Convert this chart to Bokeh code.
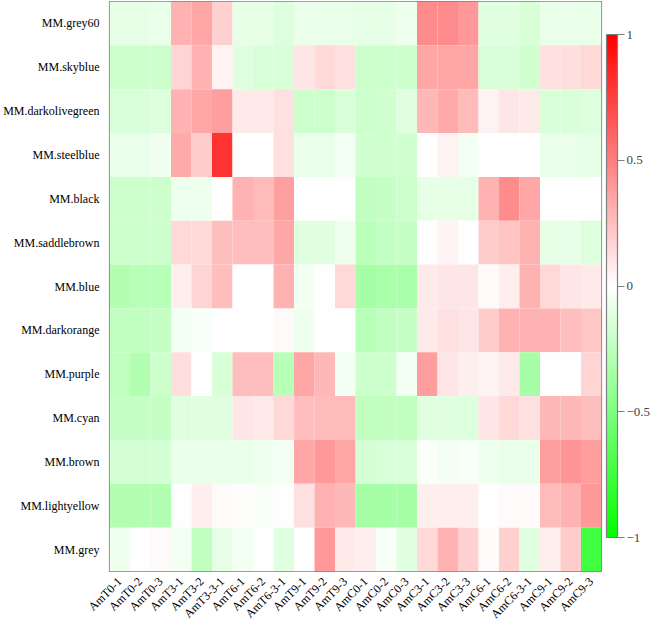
from bokeh.plotting import figure
from bokeh.models import ColumnDataSource, LinearColorMapper, ColorBar, FixedTicker, FactorRange
from bokeh.transform import transform
from bokeh.embed import file_html
from bokeh.resources import INLINE

samples = ["AmT0-1", "AmT0-2", "AmT0-3", "AmT3-1", "AmT3-2", "AmT3-3-1",
           "AmT6-1", "AmT6-2", "AmT6-3-1", "AmT9-1", "AmT9-2", "AmT9-3",
           "AmC0-1", "AmC0-2", "AmC0-3", "AmC3-1", "AmC3-2", "AmC3-3",
           "AmC6-1", "AmC6-2", "AmC6-3-1", "AmC9-1", "AmC9-2", "AmC9-3"]

modules = ["MM.grey60", "MM.skyblue", "MM.darkolivegreen", "MM.steelblue",
           "MM.black", "MM.saddlebrown", "MM.blue", "MM.darkorange",
           "MM.purple", "MM.cyan", "MM.brown", "MM.lightyellow", "MM.grey"]

grey60 = [-0.10, -0.10, -0.08, 0.30, 0.35, 0.18, -0.10, -0.10, -0.13, -0.08, -0.08, -0.08,
          -0.10, -0.10, -0.07, 0.45, 0.45, 0.40, -0.12, -0.12, -0.15, -0.08, -0.08, -0.08]
skyblue = [-0.20, -0.20, -0.20, 0.17, 0.30, 0.05, -0.12, -0.15, -0.15, 0.10, 0.15, 0.12,
           -0.20, -0.20, -0.20, 0.35, 0.35, 0.35, -0.15, -0.15, -0.18, 0.12, 0.13, 0.15]
darkolivegreen = [-0.15, -0.15, -0.13, 0.30, 0.35, 0.38, 0.08, 0.08, 0.12, -0.20, -0.20, -0.15,
                  -0.20, -0.18, -0.12, 0.28, 0.33, 0.27, 0.05, 0.10, 0.08, -0.15, -0.15, -0.13]
steelblue = [-0.08, -0.08, -0.06, 0.33, 0.20, 0.80, 0.00, 0.00, 0.12, -0.08, -0.08, -0.04,
             -0.18, -0.18, -0.18, 0.00, 0.05, -0.05, 0.00, 0.00, 0.00, -0.08, -0.08, -0.10]
black = [-0.20, -0.20, -0.20, -0.07, -0.07, 0.00, 0.30, 0.27, 0.37, 0.00, 0.00, 0.00,
         -0.25, -0.22, -0.20, -0.10, -0.10, -0.10, 0.30, 0.45, 0.35, 0.00, 0.00, 0.00]
saddlebrown = [-0.20, -0.20, -0.20, 0.15, 0.15, 0.25, 0.25, 0.25, 0.35, -0.12, -0.12, -0.07,
               -0.27, -0.24, -0.22, 0.00, 0.04, 0.00, 0.20, 0.23, 0.30, -0.10, -0.10, -0.13]
blue = [-0.30, -0.28, -0.28, 0.07, 0.17, 0.25, 0.00, 0.00, 0.30, -0.04, 0.00, 0.15,
        -0.35, -0.33, -0.33, 0.08, 0.10, 0.10, 0.02, 0.07, 0.30, 0.15, 0.10, 0.08]
darkorange = [-0.25, -0.25, -0.22, -0.05, -0.03, 0.00, 0.00, 0.00, 0.02, -0.07, 0.00, 0.00,
              -0.28, -0.25, -0.22, 0.08, 0.12, 0.10, 0.20, 0.30, 0.30, 0.30, 0.25, 0.22]
purple = [-0.25, -0.30, -0.20, 0.13, 0.00, -0.15, 0.25, 0.25, -0.28, 0.35, 0.28, -0.04,
          -0.20, -0.20, -0.05, 0.38, 0.10, 0.07, 0.05, 0.08, -0.35, 0.00, 0.00, 0.17]
cyan = [-0.22, -0.22, -0.22, -0.12, -0.12, -0.12, 0.10, 0.08, 0.15, 0.25, 0.27, 0.27,
        -0.25, -0.25, -0.25, -0.12, -0.12, -0.14, 0.10, 0.15, 0.12, 0.28, 0.28, 0.25]
brown = [-0.17, -0.17, -0.17, -0.08, -0.08, -0.08, -0.08, -0.07, -0.04, 0.35, 0.40, 0.35,
         -0.17, -0.15, -0.15, -0.02, -0.04, -0.03, -0.07, -0.08, -0.08, 0.38, 0.42, 0.38]
lightyellow = [-0.30, -0.30, -0.30, 0.00, 0.07, 0.02, 0.01, -0.03, 0.00, 0.12, 0.30, 0.28,
               -0.35, -0.35, -0.35, 0.07, 0.07, 0.07, 0.00, 0.02, 0.02, 0.27, 0.30, 0.40]
grey = [-0.07, 0.00, 0.02, -0.05, -0.25, -0.10, -0.05, 0.00, -0.12, 0.00, 0.40, 0.08,
        0.07, -0.03, -0.12, 0.15, 0.30, 0.18, 0.02, 0.18, -0.12, 0.07, 0.20, -0.75]

row_values = [grey60, skyblue, darkolivegreen, steelblue, black, saddlebrown, blue,
              darkorange, purple, cyan, brown, lightyellow, grey]

cbar_ticks = [-1, -0.5, 0, 0.5, 1]

xs, ys, vs = [], [], []
for m, vals in zip(modules, row_values):
    for s, v in zip(samples, vals):
        xs.append(s)
        ys.append(m)
        vs.append(v)
source = ColumnDataSource(dict(x=xs, y=ys, v=vs))

palette = []
for i in range(256):
    t = -1 + 2 * i / 255
    if t < 0:
        c = int(round(255 * (1 + t)))
        palette.append("#%02x%02x%02x" % (c, 255, c))
    else:
        c = int(round(255 * (1 - t)))
        palette.append("#%02x%02x%02x" % (255, c, c))

mapper = LinearColorMapper(palette=palette, low=-1, high=1)

FONT = "Liberation Serif"

p = figure(x_range=FactorRange(*samples), y_range=FactorRange(*list(reversed(modules))),
           frame_width=492, frame_height=570, output_backend="svg",
           toolbar_location=None, tools="")
p.min_border_left = 104
p.min_border_top = 1
p.min_border_bottom = 10
p.min_border_right = 54
p.styles = {"position": "absolute", "top": "0px", "left": "0px"}

p.rect(x="x", y="y", width=1, height=1, source=source,
       fill_color=transform("v", mapper), line_color=None)

p.grid.visible = False
p.outline_line_color = "#808080"
p.outline_line_width = 1.2

for ax in (p.xaxis, p.yaxis):
    ax.axis_line_color = None
    ax.major_tick_line_color = None
    ax.minor_tick_line_color = None
    ax.major_label_text_font = FONT
    ax.major_label_text_font_size = "12px"
    ax.major_label_text_color = "#000000"

p.yaxis.major_label_standoff = 4
p.xaxis.major_label_standoff = 2
p.xaxis.major_label_orientation = 0.785398

color_bar = ColorBar(color_mapper=mapper, ticker=FixedTicker(ticks=cbar_ticks),
                     width=11, height=503, location=(5, 34),
                     padding=0, margin=0,
                     major_tick_in=0, major_tick_out=7,
                     major_tick_line_color="#808080",
                     bar_line_color="#808080", bar_line_width=1.2,
                     major_label_text_font=FONT,
                     major_label_text_font_size="13px",
                     label_standoff=2,
                     background_fill_color=None,
                     border_line_color=None)
p.add_layout(color_bar, "right")

open("out.html", "w").write(file_html(p, INLINE))
